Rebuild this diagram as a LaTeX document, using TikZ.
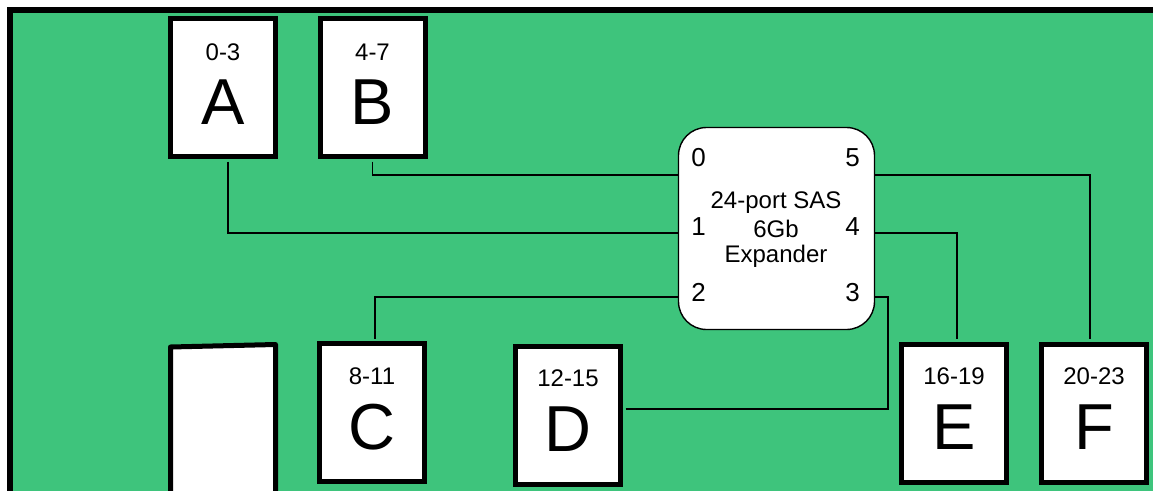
\documentclass[tikz,border=0pt]{standalone}
\usepackage{fontspec}
\setmainfont{Liberation Sans}
\definecolor{boardgreen}{RGB}{62,196,124}
\begin{document}
\begin{tikzpicture}[x=1pt,y=-1pt,
  drive/.style={draw=black,line width=5pt,fill=white,minimum width=105pt,minimum height=138pt,inner sep=0pt},
  rng/.style={font=\fontsize{24}{28}\selectfont,inner sep=0pt},
  letter/.style={font=\fontsize{65}{70}\selectfont,inner sep=0pt},
  port/.style={font=\fontsize{26}{30}\selectfont,inner sep=0pt},
  desc/.style={font=\fontsize{24}{28}\selectfont,inner sep=0pt},
  wire/.style={draw=black,line width=1.4pt}]
\useasboundingbox (0,0) rectangle (1153,490);
\clip (0,0) rectangle (1153,490);
% board
\draw[fill=boardgreen,line width=6pt] (10,10) rectangle (1200,540);
% drive cages
\node[drive] (A) at (223,87.5) {};
\node[rng] (Ar) at (223,52) {0-3};
\node[letter] (Al) at (223,102) {A};
\node[drive] (B) at (372.5,87.5) {};
\node[rng] (Br) at (372.5,52) {4-7};
\node[letter] (Bl) at (372.5,102) {B};
\node[drive] (C) at (372,412.5) {};
\node[rng] (Cr) at (372,376) {8-11};
\node[letter] (Cl) at (372,427.5) {C};
\node[drive] (D) at (568,415) {};
\node[rng] (Dr) at (568,378) {12-15};
\node[letter] (Dl) at (568,429.5) {D};
\node[drive] (E) at (954,413) {};
\node[rng] (Er) at (954,376) {16-19};
\node[letter] (El) at (954,427.5) {E};
\node[drive] (F) at (1094,413) {};
\node[rng] (Fr) at (1094,376) {20-23};
\node[letter] (Fl) at (1094,427.5) {F};
% partial blank cage
\draw[line width=5pt,fill=white,line join=round] (170.5,520) -- (170.5,347) -- (275.5,344.5) -- (275.5,520);
% expander
\node[draw=black,line width=1.4pt,fill=white,rounded corners=28pt,minimum width=196pt,minimum height=202pt,inner sep=0pt] (X) at (776.5,228.5) {};
\node[desc,anchor=base] (t1) at (776,208) {24-port SAS};
\node[desc,anchor=base] (t2) at (776,237) {6Gb};
\node[desc,anchor=base] (t3) at (776,262) {Expander};
\node[port] (p0) at (698.5,157.5) {0};
\node[port] (p1) at (698.5,226.5) {1};
\node[port] (p2) at (698.5,292.5) {2};
\node[port] (p3) at (852.5,293) {3};
\node[port] (p4) at (852.5,227) {4};
\node[port] (p5) at (852.5,158) {5};
% port heights
\coordinate (y0) at (0,175);
\coordinate (y1) at (0,233);
\coordinate (y2) at (0,297);
\coordinate (d3) at (888,297);
% wires
\draw[wire] ([yshift=-2.5pt]B.south) |- (X.west |- y0);
\draw[wire] ([xshift=5pt,yshift=-2.5pt]A.south) |- (X.west |- y1);
\draw[wire] ([xshift=3pt,yshift=2.5pt]C.north) |- (X.west |- y2);
\draw[wire] ([xshift=2.5pt,yshift=6pt]D.east) -| (d3) -- (X.east |- d3);
\draw[wire] (X.east |- y1) -| ([xshift=3pt,yshift=2.5pt]E.north);
\draw[wire] (X.east |- y0) -| ([xshift=-4pt,yshift=2.5pt]F.north);
\end{tikzpicture}
\end{document}
